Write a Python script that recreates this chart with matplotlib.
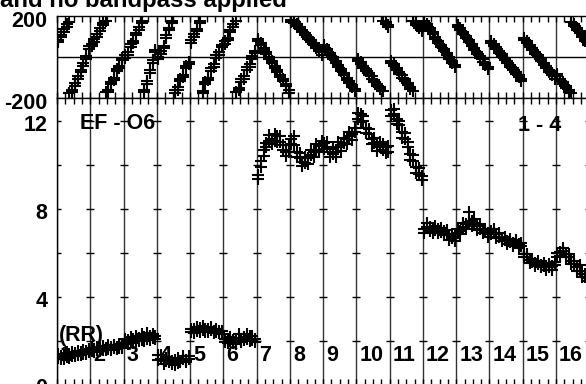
import numpy as np
import matplotlib
matplotlib.use("Agg")
import matplotlib.pyplot as plt
from matplotlib.transforms import ScaledTranslation

# channel positions inside one IF (fraction of the IF width)
chan_pos = [0.04, 0.125, 0.21, 0.29, 0.375, 0.46, 0.54, 0.625, 0.71, 0.79, 0.875, 0.96]
if_labels = [str(i) for i in range(1, 17)]

# RR phase (deg), one row per IF, two scans
phase_scan1 = [
    [72, 98, 122, 148, 172, -160, -128, -95, -62, -30, 5, 40],
    [52, 75, 100, 128, 155, 178, -160, -132, -100, -70, -42, -15],
    [-5, 22, 50, 78, 105, 132, 165, -160, -115, -65, -15, 35],
    [-10, 15, 55, 92, 130, 168, -175, -148, -116, -87, -55, -25],
    [70, 100, 135, 168, -165, -132, -100, -68, -35, -5, 25, 48],
    [65, 92, 120, 148, 174, -150, -120, -92, -62, -35, -8, 20],
    [78, 58, 35, 15, -8, -30, -52, -75, -97, -118, -140, -162],
    [179, 168, 152, 137, 121, 105, 90, 74, 58, 43, 28, 12],
    [50, 30, 10, -10, -30, -50, -70, -90, -110, -128, -148, -166],
    [-18, -35, -52, -70, -88, -105, -122, -140, -158, 178, 162, 145],
    [-28, -45, -63, -82, -100, -118, -137, -158, 175, 158, 142, 125],
    [168, 150, 130, 110, 90, 70, 50, 30, 10, -10, -30, -48],
    [148, 130, 110, 92, 72, 54, 35, 15, -3, -22, -40, -58],
    [70, 54, 37, 20, 3, -14, -31, -48, -65, -82, -98, -115],
    [85, 68, 50, 33, 15, -2, -20, -37, -55, -72, -88, -105],
    [-95, -115, -133, -152, -171, 170, 152, 133, 115, 97, 78, 60],
]
phase_scan2 = [
    [85, 108, 135, 160, -178, -170, -140, -108, -75, -42, -8, 52],
    [62, 88, 112, 140, 168, -172, -172, -120, -112, -58, -55, -5],
    [8, 12, 62, 68, 118, 145, 178, -172, -130, -78, -28, 22],
    [2, 28, 45, 105, 142, 178, -162, -160, -105, -98, -42, -35],
    [82, 112, 125, 178, -178, -120, -112, -55, -48, 8, 12, 58],
    [78, 82, 132, 160, -172, -162, -108, -105, -50, -48, 5, 30],
    [88, 68, 45, 25, 2, -20, -42, -65, -87, -108, -130, -175],
    [172, 178, 162, 147, 131, 115, 100, 84, 68, 53, 38, 22],
    [60, 40, 20, 0, -20, -40, -60, -80, -100, -118, -138, -156],
    [-8, -25, -42, -60, -78, -95, -112, -130, -148, -168, 172, 155],
    [-18, -35, -53, -72, -90, -108, -127, -148, -168, 168, 152, 135],
    [178, 160, 140, 120, 100, 80, 60, 40, 20, 0, -20, -38],
    [158, 140, 120, 102, 82, 64, 45, 25, 7, -12, -30, -48],
    [80, 64, 47, 30, 13, -4, -21, -38, -55, -72, -88, -105],
    [95, 78, 60, 43, 25, 8, -10, -27, -45, -62, -78, -95],
    [-85, -105, -123, -142, -161, -178, 162, 143, 125, 107, 88, 70],
]

# RR amplitude, one row per IF, two scans
amp_scan1 = [
    [1.25, 1.18, 1.35, 1.28, 1.40, 1.32, 1.45, 1.38, 1.50, 1.42, 1.55, 1.48],
    [1.55, 1.62, 1.58, 1.66, 1.60, 1.70, 1.65, 1.72, 1.68, 1.75, 1.70, 1.78],
    [1.90, 2.05, 1.95, 2.10, 2.00, 2.15, 2.05, 2.20, 2.10, 2.25, 2.15, 2.10],
    [1.35, 1.20, 1.10, 1.25, 1.05, 0.95, 1.15, 1.00, 1.10, 1.20, 1.15, 1.30],
    [2.40, 2.55, 2.45, 2.60, 2.50, 2.42, 2.55, 2.48, 2.45, 2.40, 2.35, 2.30],
    [1.95, 2.10, 2.00, 1.90, 2.05, 2.15, 2.00, 2.20, 2.10, 2.25, 2.05, 1.95],
    [9.55, 9.90, 10.4, 11.0, 11.1, 11.2, 11.1, 11.3, 11.05, 10.7, 10.4, 10.9],
    [11.2, 10.9, 10.6, 10.3, 10.15, 10.1, 10.3, 10.45, 10.6, 10.7, 10.85, 10.9],
    [11.0, 10.8, 10.6, 10.5, 10.6, 10.8, 10.9, 11.0, 11.2, 11.3, 11.4, 11.5],
    [12.1, 12.3, 12.0, 11.7, 11.4, 11.2, 11.0, 10.9, 10.8, 10.7, 10.8, 10.6],
    [12.5, 12.3, 12.1, 11.8, 11.5, 11.2, 10.8, 10.5, 10.2, 9.9, 9.6, 9.3],
    [7.10, 7.20, 7.00, 7.15, 7.05, 7.10, 6.95, 7.00, 6.85, 6.80, 6.70, 6.75],
    [6.90, 7.00, 7.20, 7.30, 7.40, 7.45, 7.35, 7.25, 7.10, 7.05, 6.95, 6.90],
    [7.00, 6.90, 6.85, 6.75, 6.70, 6.60, 6.55, 6.50, 6.45, 6.50, 6.40, 6.30],
    [5.95, 5.80, 5.70, 5.60, 5.55, 5.50, 5.45, 5.40, 5.40, 5.35, 5.40, 5.45],
    [5.80, 6.05, 6.10, 5.95, 5.80, 5.65, 5.50, 5.35, 5.20, 5.05, 4.90, 4.75],
]
amp_scan2 = [
    [1.40, 1.30, 1.20, 1.45, 1.22, 1.50, 1.30, 1.55, 1.35, 1.60, 1.40, 1.62],
    [1.68, 1.50, 1.75, 1.55, 1.78, 1.60, 1.82, 1.58, 1.80, 1.65, 1.85, 1.70],
    [2.10, 1.85, 2.20, 1.92, 2.25, 2.00, 2.30, 2.00, 2.35, 2.05, 2.30, 2.25],
    [1.15, 1.35, 0.95, 1.10, 1.20, 1.10, 0.90, 1.25, 1.05, 1.30, 1.05, 1.20],
    [2.55, 2.35, 2.65, 2.40, 2.70, 2.55, 2.40, 2.62, 2.35, 2.55, 2.45, 2.45],
    [2.10, 1.92, 2.20, 2.05, 1.85, 2.30, 1.95, 2.05, 2.30, 2.00, 2.25, 2.10],
    [9.35, 10.2, 10.7, 10.8, 11.35, 10.95, 11.4, 11.05, 11.3, 10.9, 10.6, 10.6],
    [10.95, 11.3, 10.35, 10.55, 9.95, 10.35, 10.05, 10.7, 10.35, 10.95, 10.6, 11.1],
    [10.75, 11.05, 10.35, 10.75, 10.35, 11.05, 10.65, 11.25, 10.95, 11.5, 11.15, 11.7],
    [12.35, 11.95, 12.25, 11.45, 11.65, 10.95, 11.25, 10.65, 11.05, 10.95, 10.55, 10.85],
    [12.25, 12.55, 11.85, 12.0, 11.25, 11.45, 11.05, 10.25, 10.45, 9.65, 9.85, 9.5],
    [6.90, 7.35, 7.20, 6.90, 7.25, 6.90, 7.15, 6.80, 7.05, 6.60, 6.85, 6.55],
    [7.10, 6.85, 7.35, 7.10, 7.85, 7.25, 7.55, 7.05, 7.30, 6.90, 7.10, 6.75],
    [6.85, 7.10, 6.70, 6.90, 6.55, 6.75, 6.40, 6.65, 6.30, 6.60, 6.25, 6.45],
    [5.80, 5.95, 5.55, 5.75, 5.40, 5.65, 5.35, 5.55, 5.25, 5.50, 5.25, 5.60],
    [6.00, 5.85, 6.25, 5.80, 5.95, 5.50, 5.65, 5.20, 5.45, 4.90, 5.05, 4.85],
]

plt.rcParams["font.family"] = ["Liberation Sans", "DejaVu Sans"]
plt.rcParams["font.weight"] = "bold"
plt.rcParams["axes.unicode_minus"] = False
FS = 15.5

W, H = 586, 384
fig = plt.figure(figsize=(W / 100, H / 100), dpi=100)
left, width = 57 / W, 532.3 / W
ax_ph = fig.add_axes([left, (H - 98) / H, width, 82 / H])
ax_am = fig.add_axes([left, (H - 385) / H, width, 287 / H])

n_if = len(phase_scan1)
x = np.array([i + np.array(chan_pos) for i in range(n_if)]).ravel()

mk = dict(marker="+", ms=8, mew=1.5, color="black", ls="none", zorder=4)
for scan in (phase_scan1, phase_scan2):
    ax_ph.plot(x, np.array(scan, float).ravel(), **mk)
for scan in (amp_scan1, amp_scan2):
    ax_am.plot(x, np.array(scan, float).ravel(), **mk)

for ax in (ax_ph, ax_am):
    ax.set_xlim(0, n_if)
    for i in range(n_if + 1):
        ax.axvline(i, color="0.2", lw=1.0, zorder=1)
    ax.set_xticks(np.arange(0, n_if + 0.01, 0.25))
    ax.tick_params(axis="x", direction="in", length=4, width=1,
                   top=True, bottom=True, labelbottom=False)
    ax.tick_params(axis="y", length=0, pad=7, labelsize=FS)
    for sp in ax.spines.values():
        sp.set_linewidth(1.0)

ax_ph.set_ylim(-200, 200)
ax_ph.set_yticks([-200, 200])
ax_ph.axhline(0, color="black", lw=1.0, zorder=1)

ax_am.set_ylim(0, 13.05)
ax_am.set_yticks([0, 4, 8, 12])
# short cross-ticks on every IF separator
tx = np.repeat(np.arange(n_if + 1), 6)
ty = np.tile(np.arange(2, 13, 2), n_if + 1)
ax_am.plot(tx, ty, marker="_", ms=6, mew=1.0, color="black", ls="none", zorder=2)

# nudge the y labels down a little, as in the original plot
for ax, dy in ((ax_ph, -3), (ax_am, -1.5)):
    shift = ScaledTranslation(0, dy / 100, fig.dpi_scale_trans)
    for lab in ax.get_yticklabels():
        lab.set_transform(lab.get_transform() + shift)

for i, lab in enumerate(if_labels):
    ax_am.text(i + 0.09, 1.36, lab, fontsize=FS, ha="left", va="center", zorder=2)
ax_am.text(0.69, 11.9, "EF - O6", fontsize=FS, ha="left", va="center", zorder=2)
ax_am.text(13.86, 11.8, "1 - 4", fontsize=FS, ha="left", va="center", zorder=2)
ax_am.text(0.06, 2.27, "(RR)", fontsize=FS, ha="left", va="center", zorder=2)

fig.text(0.0, 1 - 7 / H, "and no bandpass applied", fontsize=17.2,
         ha="left", va="baseline")

fig.savefig("out.png", dpi=100)
